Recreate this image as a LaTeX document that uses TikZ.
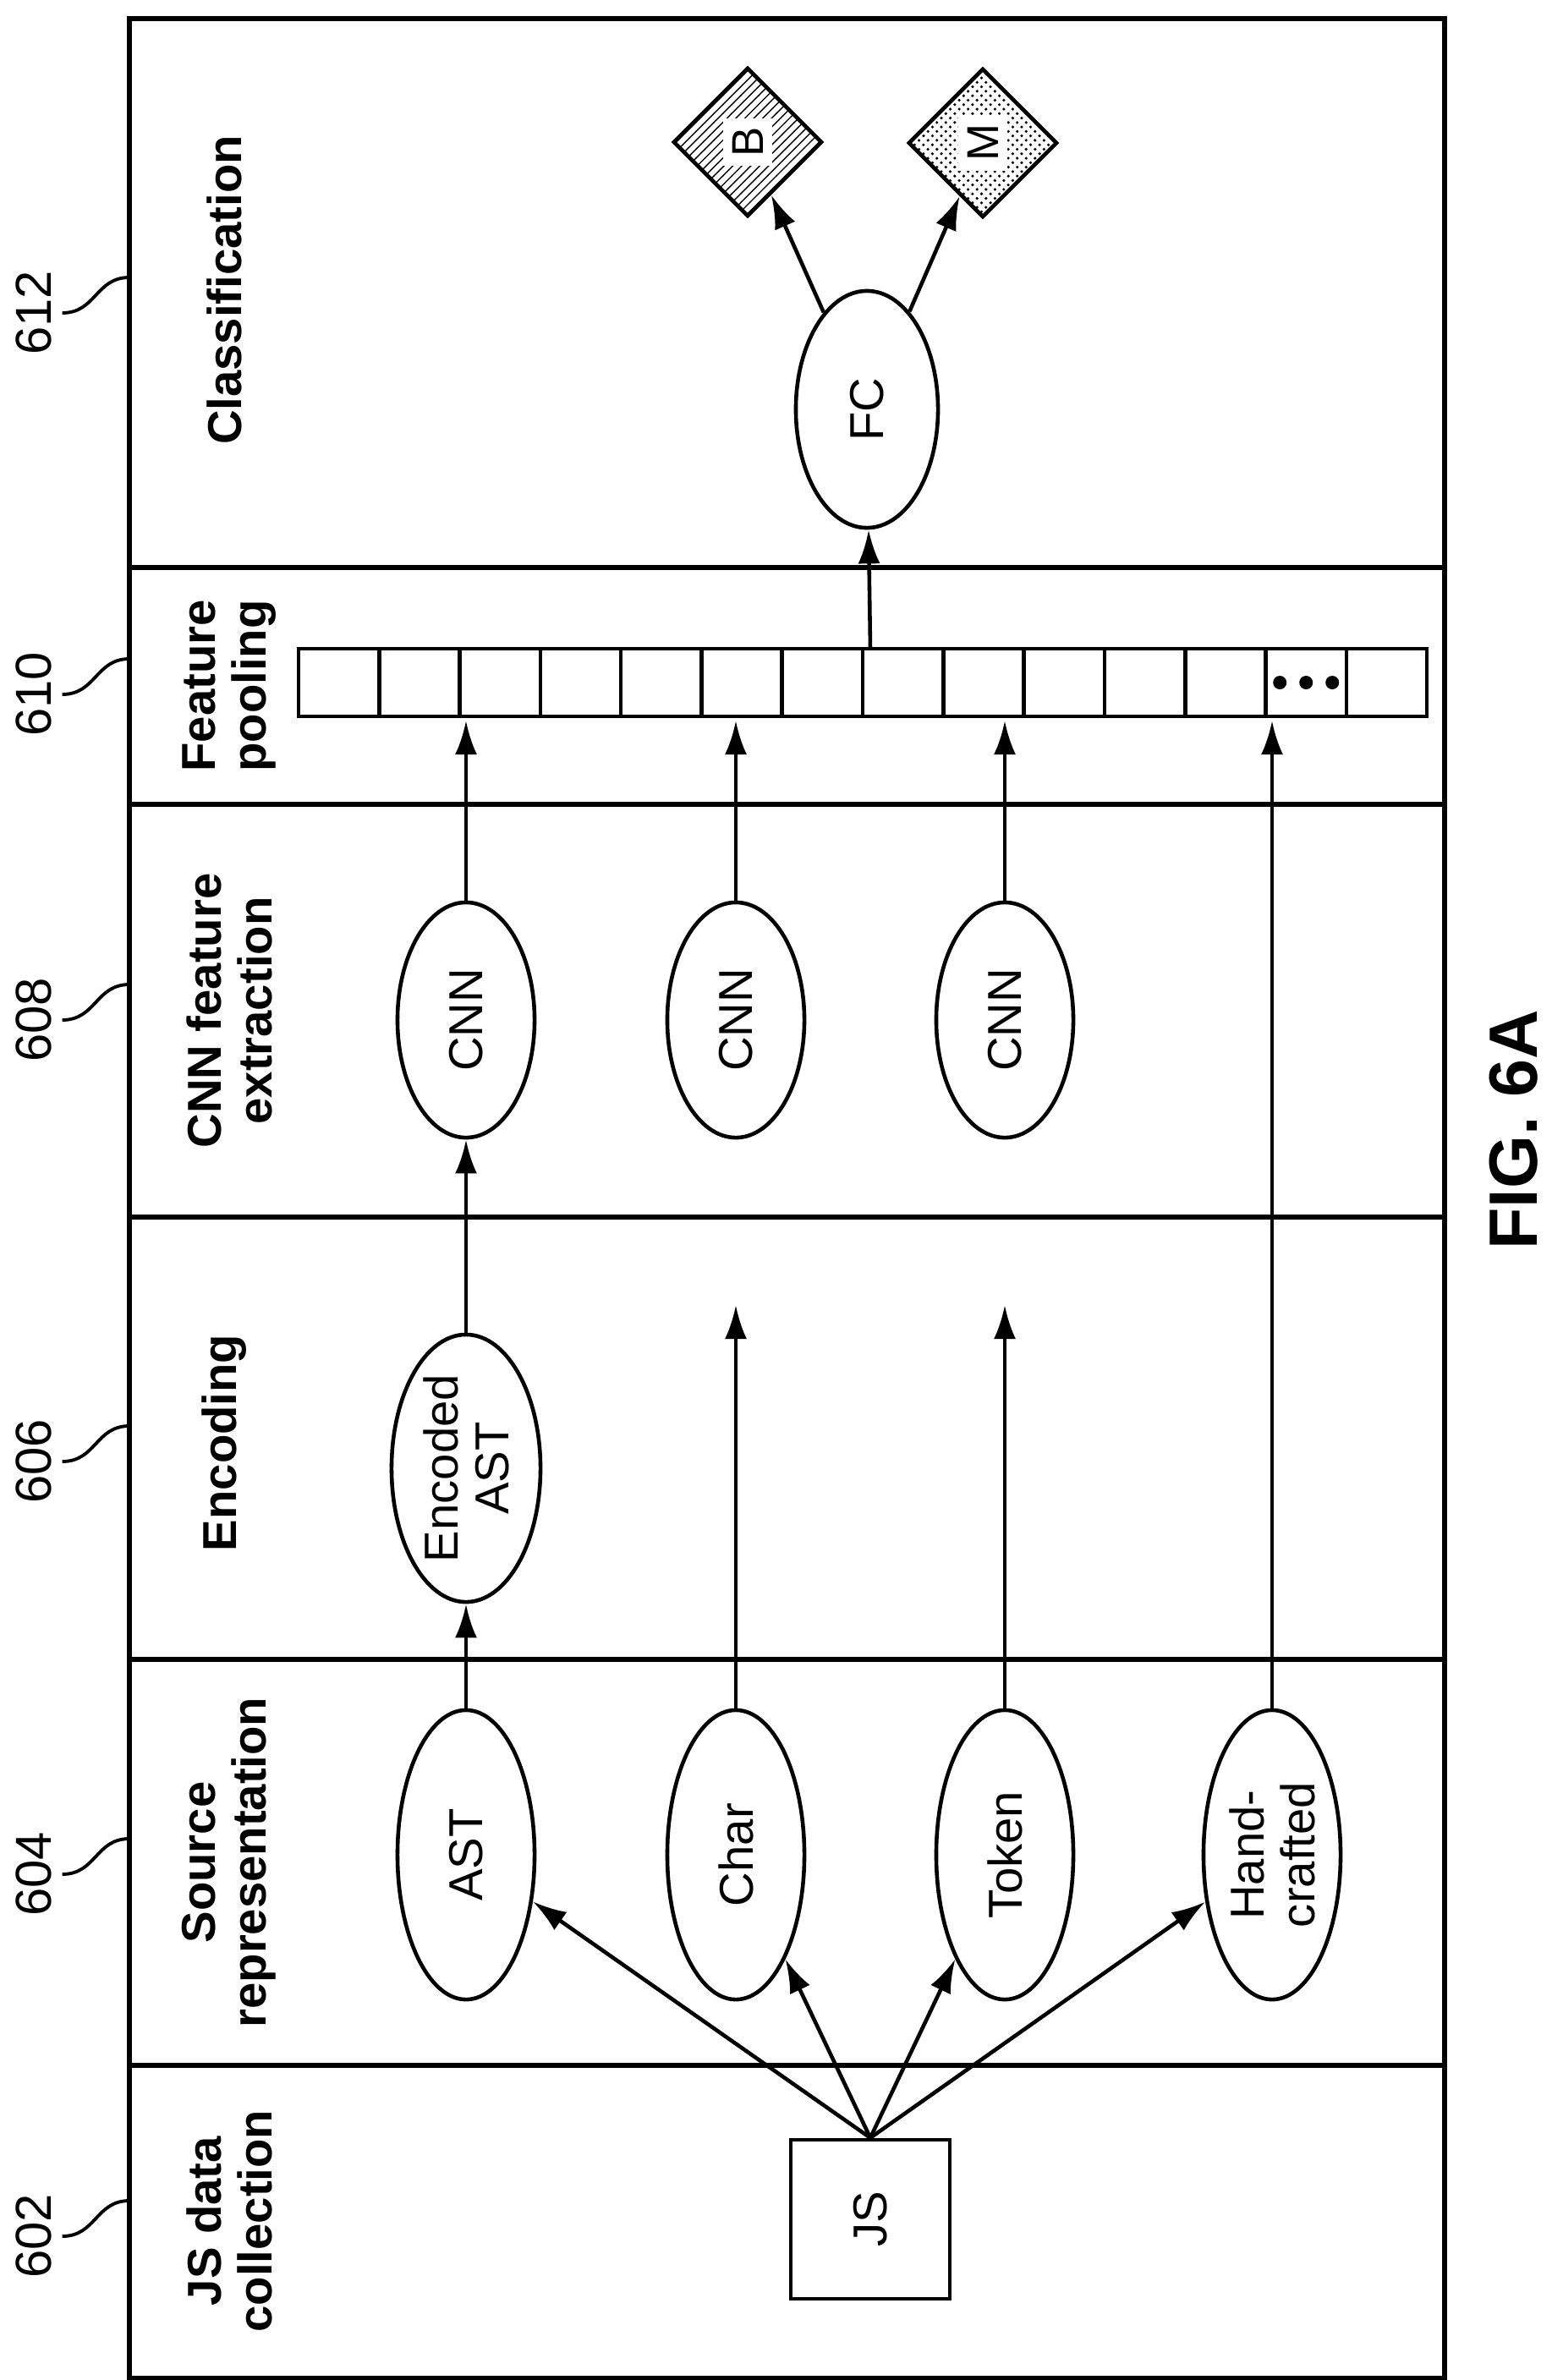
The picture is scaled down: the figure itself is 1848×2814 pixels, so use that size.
\documentclass[tikz,border=0pt]{standalone}
\usepackage{fontspec}
\setmainfont{Liberation Sans}
\usepackage{tikz}
\usetikzlibrary{calc}
\usetikzlibrary{arrows}
\usetikzlibrary{arrows.meta}
\usetikzlibrary{shapes}
\usetikzlibrary{shapes.geometric}
\usetikzlibrary{patterns}
\tikzset{>=latex}
\tikzstyle{band} = [draw=black, line width=1.6pt]
\tikzstyle{title} = [rotate=90, align=center, font=\fontsize{16}{17}\selectfont\bfseries]
\tikzstyle{refnum} = [rotate=90, font=\fontsize{17}{18}\selectfont]
\tikzstyle{oval} = [ellipse, draw=black, line width=1.3pt, rotate=90, align=center, inner sep=0pt, font=\fontsize{16}{17}\selectfont]
\tikzstyle{leaf} = [diamond, draw=black, line width=1.3pt, rotate=90, inner sep=0pt, minimum width=1.76cm, minimum height=1.76cm, font=\fontsize{15}{16}\selectfont]
\tikzstyle{flow} = [-{Latex[length=4mm, width=2.6mm]}, draw=black, line width=1.3pt]

\begin{document}
\begin{tikzpicture}[x=0.01cm, y=-0.01cm]
\useasboundingbox (0, 0) rectangle (1848, 2814);
% frame and bands
\draw [band] (153, 22) rectangle (1708, 2812);
\foreach \yy in {671, 951, 1439, 1962, 2442} {
  \draw [band] (153, \yy) -- (1708, \yy);
}
\node [title] (tClass) at (265, 343) {Classification};
\node [title] (tPool) at (271, 811) {Feature\\pooling};
\node [title] (tCnn) at (271, 1195) {CNN feature\\extraction};
\node [title] (tEnc) at (265, 1706) {Encoding};
\node [title] (tSrc) at (271, 2202) {Source\\representation};
\node [title] (tJs) at (271, 2626) {JS data\\collection};
% reference numerals
\foreach \num/\yy in {612/370, 610/821, 608/1206, 606/1728, 604/2216, 602/2644} {
  \node [refnum] (n\num) at (40, \yy) {\num};
  \coordinate (f\num) at (153, \yy-42);
  \draw [line width=1.1pt] (n\num.south) .. controls ($(n\num.south)+(40,0)$) and ($(f\num)+(-40,0)$) .. (f\num);
}
% nodes
\node [rectangle, draw=black, line width=1.3pt, rotate=90, minimum size=1.88cm, font=\fontsize{16}{17}\selectfont] (JS) at (1029, 2624) {JS};
\node [oval, minimum width=3.42cm, minimum height=1.62cm] (AST) at (551, 2193) {AST};
\node [oval, minimum width=3.42cm, minimum height=1.62cm] (Char) at (870, 2193) {Char};
\node [oval, minimum width=3.42cm, minimum height=1.62cm] (Token) at (1188, 2193) {Token};
\node [oval, minimum width=3.42cm, minimum height=1.62cm] (Hand) at (1504, 2193) {Hand-\\crafted};
\node [oval, minimum width=3.16cm, minimum height=1.76cm] (EAST) at (551, 1736) {Encoded\\AST};
\node [oval, minimum width=2.78cm, minimum height=1.62cm] (CNN1) at (551, 1206) {CNN};
\node [oval, minimum width=2.78cm, minimum height=1.62cm] (CNN2) at (870, 1206) {CNN};
\node [oval, minimum width=2.78cm, minimum height=1.62cm] (CNN3) at (1188, 1206) {CNN};
\node [oval, minimum width=2.80cm, minimum height=1.68cm] (FC) at (1025, 484) {FC};
\node [leaf, pattern=north east lines] (B) at (884, 168) {\colorbox{white}{B}};
\node [leaf, pattern=crosshatch dots] (M) at (1162, 169) {\colorbox{white}{M}};
% feature vector
\foreach \i in {0,...,13} {
  \node [rectangle, draw=black, line width=1.3pt, minimum width=0.953cm, minimum height=0.80cm, inner sep=0pt] (cell\i) at (400.6+\i*95.3, 807) {};
}
\foreach \dx in {-31, 0, 31} {
  \fill [black] ($(cell12.center)+(\dx, 0)$) circle (8);
}
\coordinate (inAST) at (551, 852);
\coordinate (inChar) at (870, 852);
\coordinate (inTok) at (1188, 852);
\coordinate (inHand) at (1504, 852);
\coordinate (outFC) at (1029, 767);
\coordinate (endChar) at (870, 1543);
\coordinate (endTok) at (1188, 1543);
% connectors
\draw [flow] (JS.east) to (AST);
\draw [flow] (JS.east) to (Char);
\draw [flow] (JS.east) to (Token);
\draw [flow] (JS.east) to (Hand);
\draw [flow] (AST) to (EAST);
\draw [flow] (Char) to (endChar);
\draw [flow] (Token) to (endTok);
\draw [flow] (Hand.east) to (inHand);
\draw [flow] (EAST) to (CNN1);
\draw [flow] (CNN1) to (inAST);
\draw [flow] (CNN2) to (inChar);
\draw [flow] (CNN3) to (inTok);
\draw [flow] (outFC) to (FC);
\draw [flow] (FC) to (B);
\draw [flow] (FC) to (M);
\node [rotate=90, font=\fontsize{23}{24}\selectfont\bfseries] (fig) at (1790, 1336) {FIG. 6A};
\end{tikzpicture}
\end{document}
